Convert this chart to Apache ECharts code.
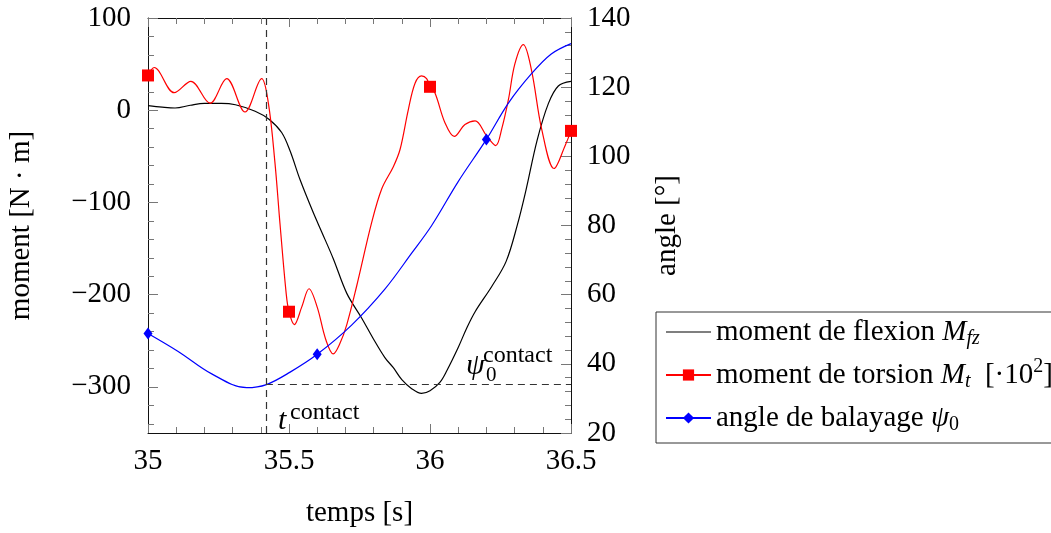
<!DOCTYPE html>
<html><head><meta charset="utf-8">
<script src="https://cdn.jsdelivr.net/npm/echarts@6/dist/echarts.min.js"></script>
<style>html,body{margin:0;padding:0;background:#fff}#c{width:1051px;height:533px}</style>
</head><body><div id="c"></div>
<script>
// ---- data ----
const flexT = [35.000, 35.05, 35.096, 35.15, 35.2, 35.26, 35.31, 35.38, 35.43, 35.474, 35.504, 35.539, 35.586, 35.616, 35.657, 35.705, 35.758, 35.8, 35.84, 35.87, 35.9, 35.935, 35.97, 36.0, 36.035, 36.06, 36.1, 36.13, 36.16, 36.22, 36.27, 36.31, 36.34, 36.38, 36.42, 36.455, 36.5];
const flexV = [4.9, 3.3, 2.4, 5.4, 7.4, 7.4, 5.9, -1.1, -10, -24.2, -44.3, -75.2, -111, -132, -161, -198.6, -225.5, -248.3, -268.2, -279.2, -292.2, -302, -307.1, -304.1, -295.1, -282.2, -257.3, -236.4, -218.5, -190.6, -163.9, -124, -87.1, -32.4, 7.4, 26.3, 31.3];

const torsionT = [35.000, 35.022, 35.093, 35.152, 35.22, 35.279, 35.344, 35.403, 35.427, 35.45, 35.468, 35.49, 35.5, 35.519, 35.545, 35.571, 35.6, 35.63, 35.657, 35.68, 35.705, 35.74, 35.793, 35.829, 35.87, 35.894, 35.923, 35.947, 35.97, 35.988, 36.0, 36.018, 36.053, 36.086, 36.124, 36.16, 36.2, 36.233, 36.255, 36.278, 36.301, 36.331, 36.36, 36.396, 36.44, 36.479, 36.5];
const torsionV = [37.7, 46.3, 19, 31.3, 7.6, 34.3, -1.9, 34.3, 7.4, -56.3, -122.9, -198.6, -218.5, -232.4, -213.5, -193.6, -213.5, -248.3, -264.3, -253.3, -232.4, -190.6, -121.9, -85.1, -61.2, -42.3, 0.5, 29.3, 37.3, 34.3, 25.4, 18.4, -13.5, -28.4, -15.5, -11.5, -27.4, -38.4, -19.4, 11.4, 50.2, 71.1, 43.3, -20.4, -63.2, -38.4, -22.4];
const torsionMarkT = [35.0, 35.5, 36.0, 36.5];

const psiT = [35.0, 35.107, 35.226, 35.35, 35.42, 35.504, 35.6, 35.722, 35.84, 35.935, 36.006, 36.1, 36.2, 36.278, 36.36, 36.43, 36.5];
const psiV = [48.8, 43.6, 37.1, 33.1, 34.0, 37.6, 42.75, 51.2, 61.6, 72.0, 80.0, 92.7, 104.9, 115.4, 123.9, 129.6, 132.6];
const psiMarkT = [35.0, 35.6, 36.2];

const tContact = 35.418;
const psiContact = 34.0;

const leftMajorTicks = [-300, -200, -100, 0, 100];
const leftMinorTicks = [-340, -320, -280, -260, -240, -220, -180, -160, -140, -120, -80, -60, -40, -20, 20, 40, 60, 80];

const nameFlex = 'moment de flexion Mfz';
const nameTorsion = 'moment de torsion Mt [·10²]';
const namePsi = 'angle de balayage ψ0';

// ---- chart ----
const F = '"Liberation Serif", "Times New Roman", serif';
const FS = 29;
const tickGray = '#777';
const frame = '#111';

function withMarks(ts, vs, marks, sym) {
  return ts.map((t, i) => ({
    value: [t, vs[i]],
    symbol: marks.some(m => Math.abs(m - t) < 1e-9) ? sym : 'none'
  }));
}
const fmtNum = v => (v < 0 ? '\u2212' + (-v) : String(v));

const legendRich = {
  r: {fontFamily: F, fontSize: FS, lineHeight: 36, color: '#000'},
  i: {fontFamily: F, fontSize: FS, lineHeight: 36, fontStyle: 'italic', color: '#000'},
  sub: {fontFamily: F, fontSize: 20, lineHeight: 22, fontStyle: 'italic', padding: [14, 0, 0, 0], color: '#000'},
  subr: {fontFamily: F, fontSize: 20, lineHeight: 22, padding: [14, 0, 0, 0], color: '#000'},
  sup: {fontFamily: F, fontSize: 20, lineHeight: 22, padding: [0, 0, 16, 0], color: '#000'}
};
const legendText = {};
legendText[nameFlex] = '{r|moment de flexion }{i|M}{sub|fz}';
legendText[nameTorsion] = '{r|moment de torsion }{i|M}{sub|t}{r|  [·10}{sup|2}{r|]}';
legendText[namePsi] = '{r|angle de balayage }{i|ψ}{subr|0}';

const chart = echarts.init(document.getElementById('c'), null, {renderer: 'canvas'});
const axisFont = {fontFamily: F, fontSize: FS, color: '#000'};

const xAxisBase = {
  type: 'value', min: 35, max: 36.5, interval: 0.5,
  axisLine: {show: true, onZero: false, lineStyle: {color: frame, width: 1}},
  axisTick: {show: true, inside: true, length: 9, lineStyle: {color: tickGray}},
  minorTick: {show: true, splitNumber: 5, length: 6, lineStyle: {color: tickGray}},
  splitLine: {show: false}
};

const option = {
  animation: false,
  backgroundColor: '#fff',
  grid: {left: 148, top: 18, width: 423, height: 424},
  legend: {
    orient: 'vertical',
    left: 656, top: 312,
    padding: [3, 10, 8, 9],
    itemGap: 8,
    itemWidth: 45, itemHeight: 14,
    borderColor: '#333', borderWidth: 1,
    itemStyle: {borderWidth: 0},
    symbolKeepAspect: true,
    formatter: n => legendText[n],
    textStyle: {fontFamily: F, fontSize: FS, color: '#000', rich: legendRich},
    data: [
      {name: nameFlex, icon: 'path://M0,0H45V1.2H0Z'},
      {name: nameTorsion},
      {name: namePsi}
    ]
  },
  xAxis: [
    Object.assign({}, xAxisBase, {
      position: 'bottom',
      axisLabel: Object.assign({margin: 14}, axisFont),
      name: 'temps [s]', nameLocation: 'middle', nameGap: 66, nameTextStyle: axisFont
    }),
    Object.assign({}, xAxisBase, {position: 'top', axisLabel: {show: false}})
  ],
  yAxis: [{
    type: 'value', position: 'left', min: -350, max: 100,
    axisLine: {show: true, onZero: false, lineStyle: {color: frame, width: 1}},
    axisTick: {show: true, inside: true, length: 10, customValues: leftMajorTicks, lineStyle: {color: tickGray}},
    splitLine: {show: false},
    axisLabel: Object.assign({margin: 17, padding: [6, 0, 0, 0], customValues: leftMajorTicks, formatter: fmtNum}, axisFont),
    name: 'moment [N · m]', nameLocation: 'middle', nameRotate: 90, nameGap: 112, nameTextStyle: axisFont
  }, {
    type: 'value', position: 'right', min: 20, max: 140, interval: 20,
    axisLine: {show: true, onZero: false, lineStyle: {color: frame, width: 1}},
    axisTick: {show: true, inside: true, length: 10, lineStyle: {color: tickGray}},
    minorTick: {show: true, splitNumber: 5, length: 6, lineStyle: {color: tickGray}},
    splitLine: {show: false},
    axisLabel: Object.assign({margin: 16, padding: [6, 0, 0, 0]}, axisFont),
    name: 'angle [°]', nameLocation: 'middle', nameRotate: 90, nameGap: 82, nameTextStyle: axisFont
  }, {
    type: 'value', position: 'left', min: -350, max: 100,
    axisLine: {show: false, onZero: false},
    axisTick: {show: true, inside: true, length: 6, customValues: leftMinorTicks, lineStyle: {color: tickGray}},
    splitLine: {show: false},
    axisLabel: {show: false}
  }],
  series: [{
    name: nameFlex, type: 'line', xAxisIndex: 0, yAxisIndex: 0,
    data: flexT.map((t, i) => [t, flexV[i]]),
    symbol: 'none', smooth: 0.35,
    lineStyle: {color: '#000', width: 1.2}, itemStyle: {color: '#000'}
  }, {
    name: nameTorsion, type: 'line', xAxisIndex: 0, yAxisIndex: 0,
    data: withMarks(torsionT, torsionV, torsionMarkT, 'rect'),
    symbol: 'rect', symbolSize: 12, showSymbol: true, showAllSymbol: true,
    smooth: 0.35,
    lineStyle: {color: '#ff0000', width: 1.2}, itemStyle: {color: '#ff0000'}
  }, {
    name: namePsi, type: 'line', xAxisIndex: 0, yAxisIndex: 1,
    data: withMarks(psiT, psiV, psiMarkT, 'diamond'),
    symbol: 'diamond', symbolSize: [9, 12], showSymbol: true, showAllSymbol: true,
    smooth: 0.35,
    lineStyle: {color: '#0000ff', width: 1.2}, itemStyle: {color: '#0000ff'},
    markLine: {
      silent: true, symbol: 'none', label: {show: false},
      lineStyle: {color: '#333', width: 1.2, type: [7, 5]},
      data: [
        {xAxis: tContact},
        [{coord: [tContact, psiContact]}, {coord: [36.5, psiContact]}]
      ]
    }
  }],
  graphic: [
    {type: 'text', x: 278, y: 421, style: {text: 't', fontFamily: F, fontSize: 30, fontStyle: 'italic', fill: '#000', align: 'left', verticalAlign: 'middle'}},
    {type: 'text', x: 290, y: 413, style: {text: 'contact', fontFamily: F, fontSize: 24, fill: '#000', align: 'left', verticalAlign: 'middle'}},
    {type: 'text', x: 466, y: 366, style: {text: 'ψ', fontFamily: F, fontSize: 30, fontStyle: 'italic', fill: '#000', align: 'left', verticalAlign: 'middle'}},
    {type: 'text', x: 486, y: 375, style: {text: '0', fontFamily: F, fontSize: 21, fill: '#000', align: 'left', verticalAlign: 'middle'}},
    {type: 'text', x: 483, y: 356, style: {text: 'contact', fontFamily: F, fontSize: 24, fill: '#000', align: 'left', verticalAlign: 'middle'}}
  ]
};
chart.setOption(option);
</script>
</body></html>
